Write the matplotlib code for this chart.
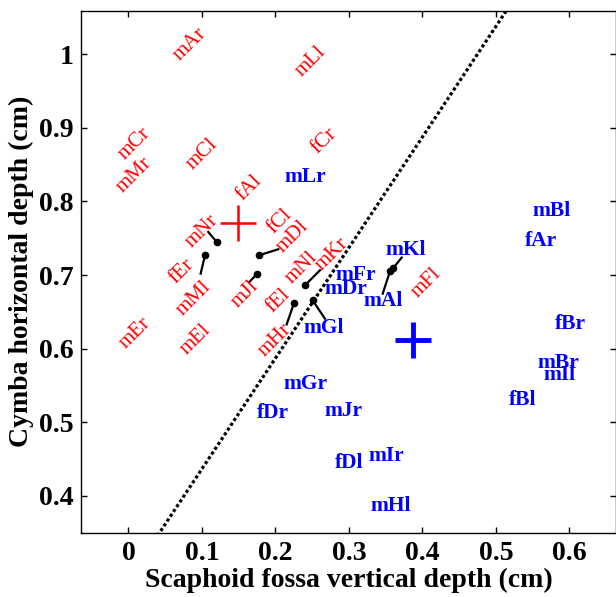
import matplotlib
matplotlib.use('Agg')
import matplotlib.pyplot as plt
import numpy as np

# red group (rotated labels), label centre positions
red_names = ['mAr', 'mLl', 'mCr', 'mMr', 'mCl', 'fCr', 'fAl', 'fCl', 'mDl', 'mNr',
             'fEr', 'mMl', 'mJl', 'mNl', 'mKr', 'fEl', 'mEr', 'mEl', 'mHr', 'mFl']
red_x = [0.0837, 0.2473, 0.0088, 0.0071, 0.1004, 0.2660, 0.1644, 0.2060, 0.2229, 0.1004,
         0.0724, 0.0887, 0.1585, 0.2356, 0.2765, 0.2038, 0.0088, 0.0914, 0.1993, 0.4057]
red_y = [1.013, 0.990, 0.8789, 0.8358, 0.8644, 0.8824, 0.8177, 0.7736, 0.7518, 0.760,
         0.7056, 0.668, 0.6739, 0.7102, 0.7283, 0.6648, 0.6218, 0.6127, 0.6113, 0.6898]

# blue group, label left/centre positions
blue_names = ['mLr', 'mBl', 'fAr', 'fBr', 'mBr', 'mIl', 'fBl', 'mKl', 'mFr', 'mDr',
              'mAl', 'mGl', 'mGr', 'fDr', 'mJr', 'fDl', 'mIr', 'mHl']
blue_x = [0.212, 0.550, 0.5395, 0.580, 0.556, 0.564, 0.518, 0.349, 0.281, 0.2673,
          0.3195, 0.2378, 0.2106, 0.1744, 0.266, 0.281, 0.3263, 0.3295]
blue_y = [0.8335, 0.7868, 0.746, 0.634, 0.581, 0.5637, 0.5297, 0.734, 0.6997, 0.6807,
          0.6644, 0.6276, 0.5514, 0.5133, 0.5147, 0.4453, 0.4548, 0.3868]

# points that sit away from their label: true point and leader end
lead_names = ['mNr', 'mMl', 'mDl', 'mJl', 'mKr', 'mHr', 'mGl', 'mKl', 'mAl']
pt_x = [0.120, 0.1041, 0.1776, 0.1752, 0.2401, 0.2252, 0.2506, 0.3603, 0.3558]
pt_y = [0.745, 0.7269, 0.7269, 0.702, 0.6861, 0.662, 0.6657, 0.7097, 0.7052]
end_x = [0.1086, 0.0982, 0.2038, 0.1644, 0.2605, 0.2152, 0.2673, 0.3717, 0.3459]
end_y = [0.7586, 0.702, 0.7351, 0.6906, 0.7065, 0.633, 0.6408, 0.7238, 0.6748]

# group means
red_mean = (0.1494, 0.771)
blue_mean = (0.3875, 0.6122)

# separating line
boundary_slope = 1.503
boundary_intercept = 0.2865

serif = 'Liberation Serif'

fig = plt.figure(figsize=(6.16, 5.97), dpi=100)
ax = fig.add_axes([0.1323, 0.1077, 0.8669, 0.8744])

xl = (-0.0639, 0.6626)
yl = (0.35, 1.0592)

bx = np.array([-0.1, 0.7])
ax.plot(bx, boundary_slope * bx + boundary_intercept, color='black',
        linewidth=2.3, dashes=(1, 0.8), dash_capstyle='butt')

for n, x, y in zip(red_names, red_x, red_y):
    ax.text(x, y, n, color='red', rotation=45, rotation_mode='anchor',
            ha='center', va='center', fontsize=15, family=serif)

for n, x, y in zip(blue_names, blue_x, blue_y):
    ax.text(x, y, n, color='blue', ha='left', va='center', fontsize=15.5,
            family=serif, fontweight='bold')

for px, py, ex, ey in zip(pt_x, pt_y, end_x, end_y):
    ax.plot([px, ex], [py, ey], color='black', linewidth=1.6)
    ax.plot(px, py, 'o', color='black', markersize=4.5)

ax.plot(*red_mean, '+', color='red', markersize=26, markeredgewidth=1.8)
ax.plot(*blue_mean, '+', color='blue', markersize=26, markeredgewidth=3.5)

ax.set_xlim(xl)
ax.set_ylim(yl)
ax.set_xticks([0, 0.1, 0.2, 0.3, 0.4, 0.5, 0.6])
ax.set_xticklabels(['0', '0.1', '0.2', '0.3', '0.4', '0.5', '0.6'])
ax.set_yticks([0.4, 0.5, 0.6, 0.7, 0.8, 0.9, 1.0])
ax.set_yticklabels(['0.4', '0.5', '0.6', '0.7', '0.8', '0.9', '1'])
ax.tick_params(direction='in', length=4, width=1, top=True, right=True, pad=6)
for lab in ax.get_xticklabels() + ax.get_yticklabels():
    lab.set_family(serif)
    lab.set_fontweight('bold')
    lab.set_fontsize(20)
for s in ax.spines.values():
    s.set_linewidth(1)

ax.set_xlabel('Scaphoid fossa vertical depth (cm)', family=serif, fontweight='bold',
              fontsize=20, labelpad=1)
ax.set_ylabel('Cymba horizontal depth (cm)', family=serif, fontweight='bold',
              fontsize=20, labelpad=3)

fig.savefig('out.png', dpi=100)
